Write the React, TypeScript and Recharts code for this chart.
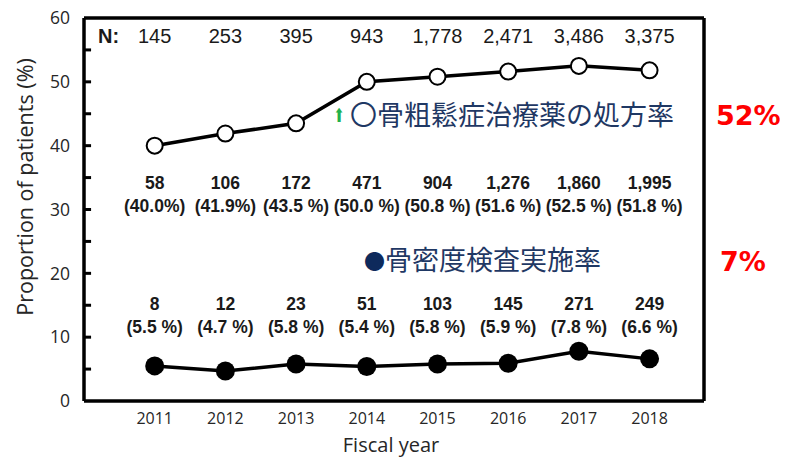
import React from 'react';
import { ComposedChart, Line, XAxis, YAxis, ReferenceLine, LabelList } from 'recharts';

const years = [2011, 2012, 2013, 2014, 2015, 2016, 2017, 2018];
const nTotal = [145, 253, 395, 943, 1778, 2471, 3486, 3375];
const rxCount = [58, 106, 172, 471, 904, 1276, 1860, 1995];
const rxRate = [40.0, 41.9, 43.5, 50.0, 50.8, 51.6, 52.5, 51.8];
const rxPctLabels = ['(40.0%)', '(41.9%)', '(43.5 %)', '(50.0 %)', '(50.8 %)', '(51.6 %)', '(52.5 %)', '(51.8 %)'];
const bmdCount = [8, 12, 23, 51, 103, 145, 271, 249];
const bmdRate = [5.5, 4.7, 5.8, 5.4, 5.8, 5.9, 7.8, 6.6];
const bmdPctLabels = ['(5.5 %)', '(4.7 %)', '(5.8 %)', '(5.4 %)', '(5.8 %)', '(5.9 %)', '(7.8 %)', '(6.6 %)'];
const yTicks = [0, 10, 20, 30, 40, 50, 60];
const yMinorTicks = [5, 10, 15, 20, 25, 30, 35, 40, 45, 50, 55];

const fmt = (v: number) => v.toLocaleString('en-US');

const data = years.map((year, i) => ({
  year,
  n: fmt(nTotal[i]),
  rxRate: rxRate[i],
  rxCount: fmt(rxCount[i]),
  rxPct: rxPctLabels[i],
  bmdRate: bmdRate[i],
  bmdCount: fmt(bmdCount[i]),
  bmdPct: bmdPctLabels[i],
}));

const X_MIN = 2010;
const X_MAX = 2018.77;
const TICK_LEN = 0.1;
const ARIAL = '"Liberation Sans", Arial, sans-serif';
const CALIBRI = '"Open Sans", sans-serif';
const CJK = '"Noto Sans CJK JP", "Noto Sans CJK SC", sans-serif';

const rowLabel = (rowY: number, size: number, bold: boolean) => (props: any) => {
  const x = props.x ?? props.viewBox?.x;
  if (x == null) return null;
  return (
    <text
      x={x}
      y={rowY}
      textAnchor="middle"
      fontFamily={ARIAL}
      fontSize={size}
      fontWeight={bold ? 700 : 400}
      fill="#1a1a1a"
    >
      {props.value}
    </text>
  );
};

const XTick = (props: any) => {
  const { x, y, payload } = props;
  return (
    <text x={x} y={y + 15} textAnchor="middle" fontFamily={CALIBRI} fontSize={16} fill="#262626">
      {payload.value}
    </text>
  );
};

export default function App() {
  return (
    <div style={{ position: 'absolute', left: 0, top: 0, width: 787, height: 458, background: '#fff' }}>
      <ComposedChart
        width={787}
        height={458}
        data={data}
        margin={{ top: 18, right: 83, bottom: 7, left: 34 }}
      >
        <XAxis
          dataKey="year"
          type="number"
          domain={[X_MIN, X_MAX]}
          ticks={years}
          interval={0}
          tickLine={false}
          axisLine={{ stroke: '#000', strokeWidth: 3.5 }}
          height={50}
          tick={<XTick />}
        />
        <YAxis
          domain={[0, 60]}
          ticks={yTicks}
          interval={0}
          width={50}
          tickLine={false}
          tickMargin={8}
          axisLine={{ stroke: '#000', strokeWidth: 3.5 }}
          tick={{ fill: '#262626', fontSize: 17.5, fontFamily: CALIBRI }}
        />
        {yMinorTicks.map((t) => (
          <ReferenceLine
            key={t}
            ifOverflow="visible"
            segment={[
              { x: X_MIN, y: t },
              { x: X_MIN + TICK_LEN, y: t },
            ]}
            stroke="#000"
            strokeWidth={3}
          />
        ))}
        <ReferenceLine y={60} stroke="#000" strokeWidth={3.5} />
        <ReferenceLine x={X_MAX} stroke="#000" strokeWidth={3.5} />
        <Line
          dataKey="rxRate"
          stroke="#000"
          strokeWidth={3.5}
          isAnimationActive={false}
          dot={{ r: 8, fill: '#fff', stroke: '#000', strokeWidth: 2 }}
        >
          <LabelList dataKey="n" content={rowLabel(43, 20, false)} />
          <LabelList dataKey="rxCount" content={rowLabel(189, 17.5, true)} />
          <LabelList dataKey="rxPct" content={rowLabel(212, 17.5, true)} />
        </Line>
        <Line
          dataKey="bmdRate"
          stroke="#000"
          strokeWidth={3.5}
          isAnimationActive={false}
          dot={{ r: 9.5, fill: '#000', stroke: '#000', strokeWidth: 0 }}
        >
          <LabelList dataKey="bmdCount" content={rowLabel(310, 17.5, true)} />
          <LabelList dataKey="bmdPct" content={rowLabel(333, 17.5, true)} />
        </Line>
      </ComposedChart>
      <svg
        width={787}
        height={458}
        style={{ position: 'absolute', left: 0, top: 0, pointerEvents: 'none' }}
      >
        <text
          transform="translate(33,187) rotate(-90)"
          textAnchor="middle"
          fontFamily={CALIBRI}
          fontSize={21.5}
          fill="#262626"
        >
          Proportion of patients (%)
        </text>
        <text x={391} y={452} textAnchor="middle" fontFamily={CALIBRI} fontSize={20} fill="#262626">
          Fiscal year
        </text>
        <text x={98} y={43} fontFamily={ARIAL} fontSize={20} fontWeight={700} fill="#1a1a1a">
          N:
        </text>
        <text
          transform="translate(339,122) scale(0.7,1)"
          textAnchor="middle"
          fontFamily='"DejaVu Sans", sans-serif'
          fontSize={19}
          fill="#22b14c"
        >
          ⬆
        </text>
        <text x={350} y={125} fontFamily={CJK} fontSize={27} fill="#1f3864">
          〇骨粗鬆症治療薬の処方率
        </text>
        <text x={364} y={269} fontFamily={CJK} fontSize={21} fill="#0e2a5c">
          ●
        </text>
        <text x={385} y={270} fontFamily={CJK} fontSize={27} fill="#1f3864">
          骨密度検査実施率
        </text>
        <text x={716} y={125} fontFamily='"DejaVu Sans", sans-serif' fontWeight={700} fontSize={27} fill="#ff0000">
          52%
        </text>
        <text x={720} y={271} fontFamily='"DejaVu Sans", sans-serif' fontWeight={700} fontSize={27} fill="#ff0000">
          7%
        </text>
      </svg>
    </div>
  );
}
